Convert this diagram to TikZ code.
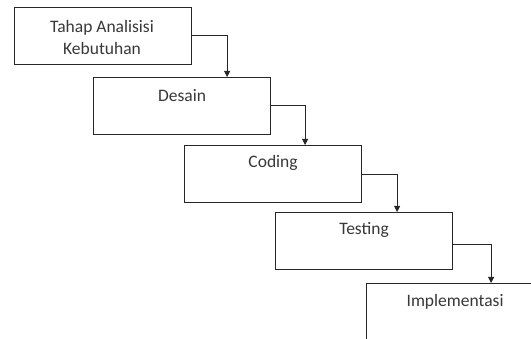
\documentclass[tikz,border=0pt]{standalone}
\usepackage{fontspec}
\setmainfont{Carlito}
\usetikzlibrary{arrows.meta}
\begin{document}
\begin{tikzpicture}[x=1pt,y=-1pt,
  stagebox/.style={draw=black!85, line width=1.1pt, fill=white, minimum width=177pt, minimum height=57pt, inner sep=0pt, anchor=north west},
  boxtext/.style={font=\fontsize{17.5pt}{22pt}\selectfont, text=black!78, align=center},
  flow/.style={draw=black!85, line width=0.8pt, -{Triangle[width=6pt,length=6pt]}}]
\useasboundingbox (0,0) rectangle (531,339);
\clip (0,0) rectangle (531,339);
\node[stagebox] (b1) at (14,7) {};
\node[stagebox] (b2) at (93,77) {};
\node[stagebox] (b3) at (184,145) {};
\node[stagebox] (b4) at (275,212) {};
\node[stagebox] (b5) at (366,283) {};
\node[boxtext, anchor=base] (t1) at ([xshift=-1pt,yshift=-48pt]b1.north) {Tahap Analisisi\\Kebutuhan};
\node[boxtext, anchor=base] (t2) at ([yshift=-25pt]b2.north) {Desain};
\node[boxtext, anchor=base] (t3) at ([yshift=-23pt]b3.north) {Coding};
\node[boxtext, anchor=base] (t4) at ([yshift=-23pt]b4.north) {Testing};
\node[boxtext, anchor=base] (t5) at ([yshift=-24pt]b5.north) {Implementasi};
\draw[flow] ([yshift=1pt]b1.east) -| ([xshift=35pt]b1.east |- b2.north);
\draw[flow] ([yshift=1pt]b2.east) -| ([xshift=34pt]b2.east |- b3.north);
\draw[flow] (b3.east) -| ([xshift=35pt]b3.east |- b4.north);
\draw[flow] ([yshift=-3pt]b4.east) -| ([xshift=38pt]b4.east |- b5.north);
\end{tikzpicture}
\end{document}
